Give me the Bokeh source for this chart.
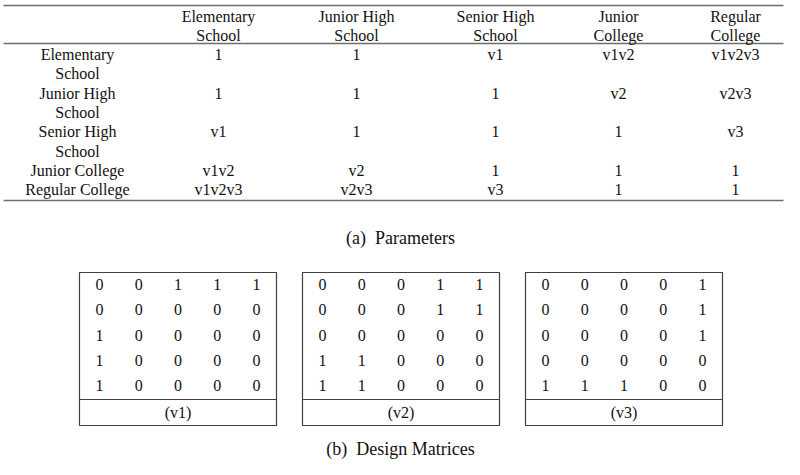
from bokeh.plotting import figure
from bokeh.models import Range1d, ColumnDataSource
from bokeh.core.properties import value
from bokeh.embed import file_html
from bokeh.resources import INLINE

# ---- data ----
col_labels = ["Elementary\nSchool", "Junior High\nSchool", "Senior High\nSchool",
              "Junior\nCollege", "Regular\nCollege"]
row_labels = ["Elementary\nSchool", "Junior High\nSchool", "Senior High\nSchool",
              "Junior College", "Regular College"]
params = [
    ["1", "1", "v1", "v1v2", "v1v2v3"],
    ["1", "1", "1", "v2", "v2v3"],
    ["v1", "1", "1", "1", "v3"],
    ["v1v2", "v2", "1", "1", "1"],
    ["v1v2v3", "v2v3", "v3", "1", "1"],
]
v1 = [[0, 0, 1, 1, 1],
      [0, 0, 0, 0, 0],
      [1, 0, 0, 0, 0],
      [1, 0, 0, 0, 0],
      [1, 0, 0, 0, 0]]
v2 = [[0, 0, 0, 1, 1],
      [0, 0, 0, 1, 1],
      [0, 0, 0, 0, 0],
      [1, 1, 0, 0, 0],
      [1, 1, 0, 0, 0]]
v3 = [[0, 0, 0, 0, 1],
      [0, 0, 0, 0, 1],
      [0, 0, 0, 0, 1],
      [0, 0, 0, 0, 0],
      [1, 1, 1, 0, 0]]
matrix_names = ["(v1)", "(v2)", "(v3)"]
caption_a = "(a)\u00a0\u00a0Parameters"
caption_b = "(b)\u00a0\u00a0Design Matrices"

# ---- layout ----
W, H = 784, 459
FONT = value("Liberation Serif")
TXT = "#111111"
p = figure(width=W, height=H, x_range=Range1d(0, W), y_range=Range1d(H, 0),
           output_backend="svg", toolbar_location=None, min_border=0)
p.axis.visible = False
p.grid.visible = False
p.outline_line_color = None
p.background_fill_color = "white"
p.border_fill_color = "white"

def add_text(xs, ys, texts, size="16px", align="center"):
    src = ColumnDataSource(dict(x=xs, y=ys, t=texts))
    p.text("x", "y", text="t", source=src, text_font=FONT, text_font_size=size,
           text_align=align, text_baseline="middle", text_color=TXT)

# table rules
p.segment(x0=[3, 3, 3], y0=[5, 43, 200], x1=[783, 783, 783], y1=[5, 43, 200],
          line_color="#6e6e6e", line_width=1.5)

col_x = [218, 356, 495, 618, 735]
label_x = 77
line_h = 19.3
hx, hy, ht = [], [], []
for cx, lab in zip(col_x, col_labels):
    for k, part in enumerate(lab.split("\n")):
        hx.append(cx); hy.append(16 + k * 18.5); ht.append(part)
add_text(hx, hy, ht)

rx, ry, rt = [], [], []
vx, vy, vt = [], [], []
y = 54
for lab, rowvals in zip(row_labels, params):
    parts = lab.split("\n")
    for k, part in enumerate(parts):
        rx.append(label_x); ry.append(y + k * line_h); rt.append(part)
    for cx, v in zip(col_x, rowvals):
        vx.append(cx); vy.append(y); vt.append(v)
    y += line_h * len(parts)
add_text(rx, ry, rt)
add_text(vx, vy, vt)

add_text([400], [237], [caption_a], size="18px")

# design matrices
box_left = [79, 302, 525]
box_w = 197
box_top, box_div, box_bot = 272, 399, 425
p.quad(left=box_left, right=[b + box_w for b in box_left],
       top=[box_top] * 3, bottom=[box_bot] * 3,
       fill_color=None, line_color="#404040", line_width=1.2)
p.segment(x0=box_left, y0=[box_div] * 3, x1=[b + box_w for b in box_left], y1=[box_div] * 3,
          line_color="#404040", line_width=1.2)
mx, my, mt = [], [], []
for bl, mat in zip(box_left, [v1, v2, v3]):
    for i, row in enumerate(mat):
        for j, val in enumerate(row):
            mx.append(bl + 20 + j * 39.25)
            my.append(284 + i * 25.25)
            mt.append(str(val))
add_text(mx, my, mt)
add_text([b + box_w / 2 for b in box_left], [412] * 3, matrix_names)

add_text([400], [448], [caption_b], size="18px")

open("out.html", "w").write(file_html(p, INLINE))
